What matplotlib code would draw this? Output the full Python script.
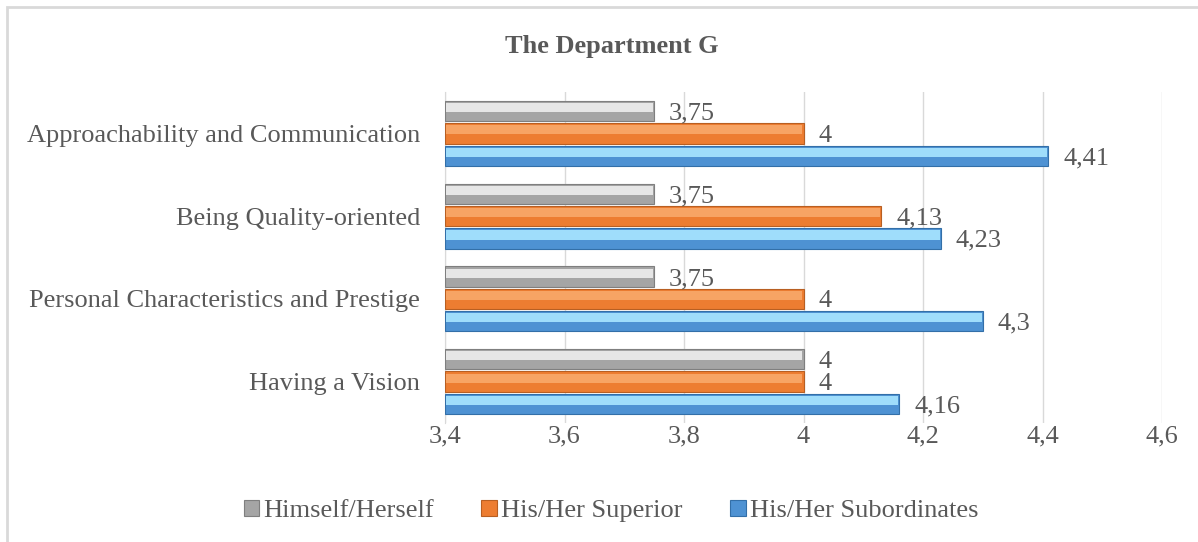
import numpy as np
import matplotlib.pyplot as plt
from matplotlib.patches import Rectangle
from matplotlib.ticker import FuncFormatter

plt.rcParams['font.family'] = ['Liberation Serif', 'DejaVu Serif']

# Dane
kategorie = ["Having a Vision", "Personal Characteristics and Prestige",
             "Being Quality-oriented", "Approachability and Communication"]
himself = [4.0, 3.75, 3.75, 3.75]
superior = [4.0, 4.0, 4.13, 4.0]
subordinates = [4.16, 4.3, 4.23, 4.41]
serie = ["Himself/Herself", "His/Her Superior", "His/Her Subordinates"]
x_ticks = [3.4, 3.6, 3.8, 4.0, 4.2, 4.4, 4.6]

kolory = ["#A5A5A5", "#ED7D31", "#4E92D3"]
jasne = ["#E6E6E6", "#F7A464", "#9FDDFB"]
krawedzie = ["#7F7F7F", "#B85F22", "#336FA8"]
tekst = "#595959"

fig = plt.figure(figsize=(11.98, 5.42), dpi=100)
fig.patches.append(Rectangle((7 / 1198, -0.01), 1.02, 1 - 7 / 542 + 0.01,
                             transform=fig.transFigure, fill=False,
                             edgecolor="#D9D9D9", linewidth=2))
ax = fig.add_axes([445 / 1198, 1 - 423 / 542, (1162 - 445) / 1198, (423 - 92) / 542])

y = np.arange(len(kategorie))
h = 0.245
offs = [0.27, 0.0, -0.27]
wartosci = [himself, superior, subordinates]
base = 3.4

for dane, off, c, cj, ce, nazwa in zip(wartosci, offs, kolory, jasne, krawedzie, serie):
    dl = np.array(dane) - base
    ax.barh(y + off, dl, left=base, height=h, color=c, edgecolor=ce,
            linewidth=0.8, label=nazwa, zorder=3)
    # jasniejsza gorna czesc slupka (efekt wypuklosci)
    ax.barh(y + off + h * 0.17, dl - 0.004, left=base + 0.002, height=h * 0.45,
            color=cj, linewidth=0, zorder=4)
    for yy, v in zip(y + off, dane):
        ax.text(v + 0.025, yy - 0.03, f"{v:g}".replace(".", ","), va="center",
                ha="left", fontsize=19, color=tekst, zorder=5)

ax.set_xlim(3.4, 4.6)
ax.set_ylim(-0.5, len(kategorie) - 0.5)
ax.set_xticks(x_ticks)
ax.xaxis.set_major_formatter(FuncFormatter(lambda v, p: f"{v:g}".replace(".", ",")))
ax.set_yticks(y)
ax.set_yticklabels(kategorie)
ax.tick_params(axis="both", length=0, labelsize=19, colors=tekst)
ax.tick_params(axis="y", pad=18)
ax.tick_params(axis="x", pad=2)
ax.grid(axis="x", color="#D9D9D9", linewidth=1, zorder=0)
for s in ["top", "right", "bottom"]:
    ax.spines[s].set_visible(False)
ax.spines["left"].set_color("#D9D9D9")

fig.text(612 / 1198, 1 - 46 / 542, "The Department G", ha="center", va="center",
         fontsize=19, fontweight="bold", color=tekst)

uchwyty, etykiety = ax.get_legend_handles_labels()
fig.legend(uchwyty, etykiety, loc="center", bbox_to_anchor=(611 / 1198, 1 - 511 / 542),
           ncol=3, frameon=False, fontsize=19, handlelength=0.6, handleheight=0.6,
           handletextpad=0.15, columnspacing=1.8, labelcolor=tekst)

fig.savefig("out.png", dpi=100)
